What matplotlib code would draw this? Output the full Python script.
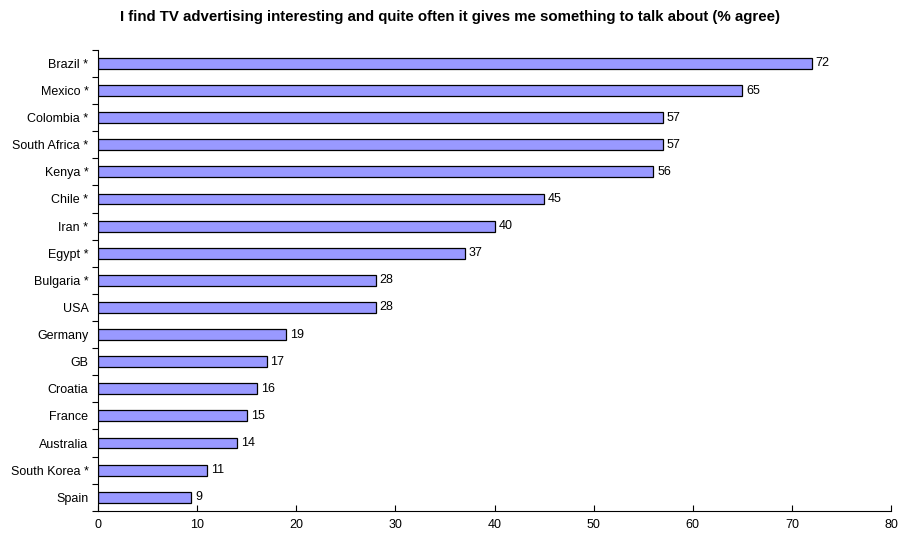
import numpy as np
import matplotlib.pyplot as plt

plt.rcParams['font.family'] = ['Liberation Sans', 'DejaVu Sans']

countries = ['Brazil *', 'Mexico *', 'Colombia *', 'South Africa *', 'Kenya *',
             'Chile *', 'Iran *', 'Egypt *', 'Bulgaria *', 'USA', 'Germany', 'GB',
             'Croatia', 'France', 'Australia', 'South Korea *', 'Spain']
agree = [72, 65, 57, 57, 56, 45, 40, 37, 28, 28, 19, 17, 16, 15, 14, 11, 9.4]

fig = plt.figure(figsize=(9, 5.36), dpi=100)
ax = fig.add_axes([0.109, 0.047, 0.881, 0.860])

y = np.arange(len(countries))
ax.barh(y, agree, height=0.4, color='#9999FF', edgecolor='black', linewidth=0.9)
for yi, v in zip(y, agree):
    ax.text(v + 0.4, yi, f'{v:.0f}', va='center', ha='left', fontsize=9)

ax.set_ylim(len(countries) - 0.5, -0.5)
ax.set_xlim(0, 80)
ax.set_xticks(np.arange(0, 81, 10))
ax.set_yticks(y)
ax.set_yticklabels(countries, fontsize=9)
ax.set_yticks(np.arange(-0.5, len(countries), 1), minor=True)
ax.tick_params(axis='y', which='major', length=0, pad=7)
ax.tick_params(axis='y', which='minor', length=4, direction='out', width=0.8)
ax.tick_params(axis='x', length=4, direction='in', labelsize=9, pad=6, width=0.8)
for s in ['top', 'right']:
    ax.spines[s].set_visible(False)
for s in ['left', 'bottom']:
    ax.spines[s].set_linewidth(0.8)

fig.suptitle('I find TV advertising interesting and quite often it gives me something to talk about (% agree)',
             fontsize=10.8, fontweight='bold', y=0.982)

fig.savefig('out.png', dpi=100)
